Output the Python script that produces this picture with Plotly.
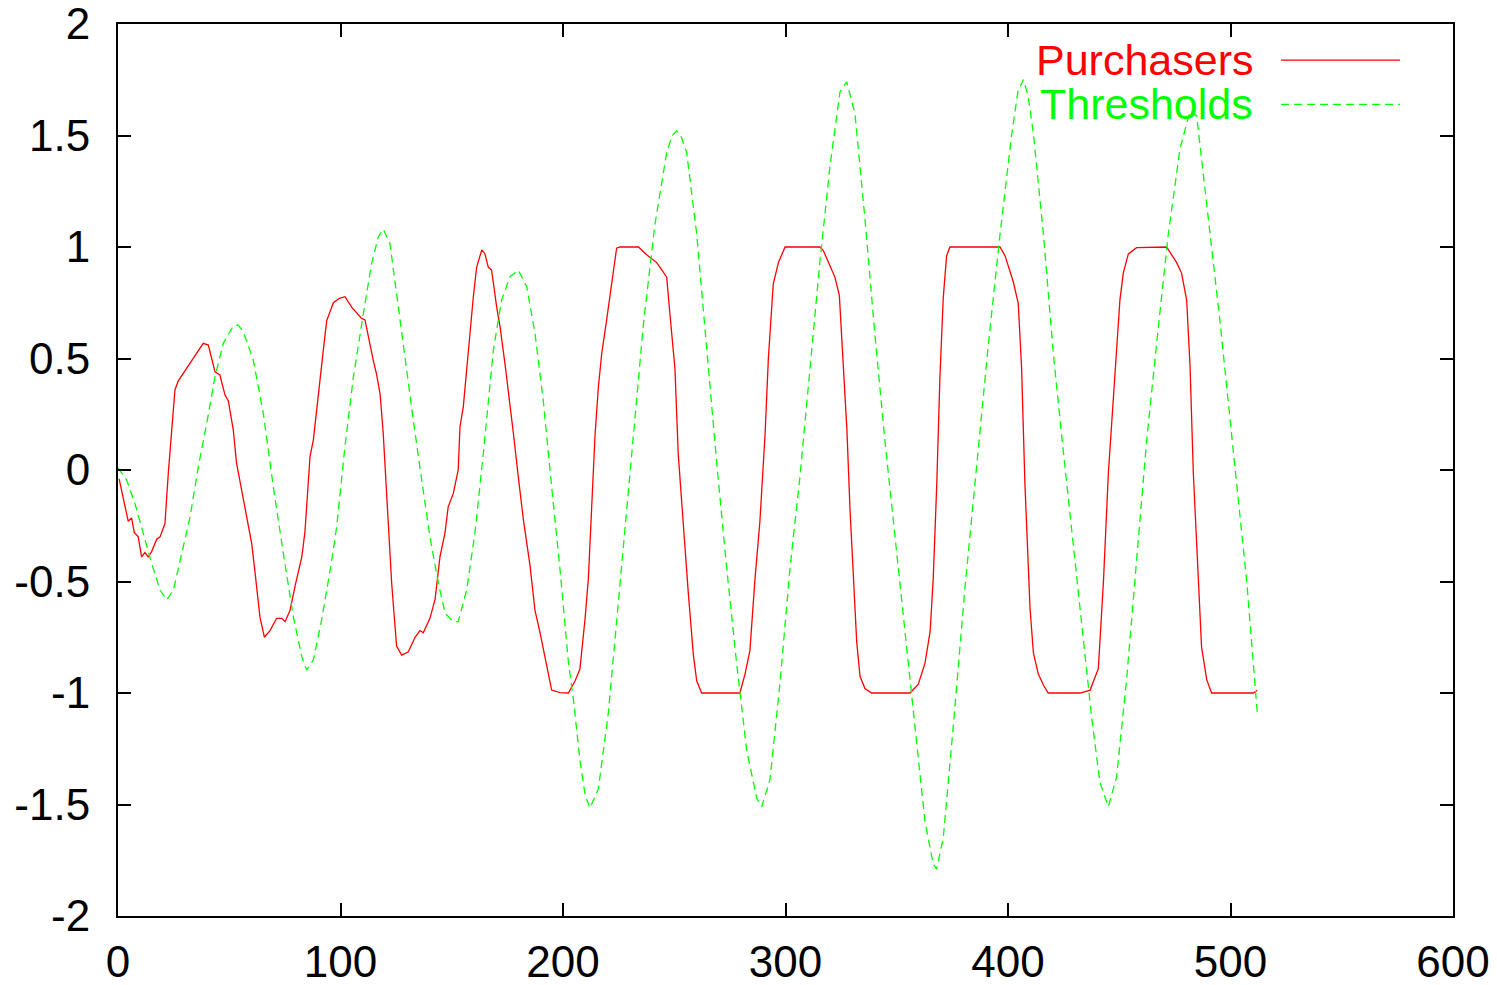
import plotly.graph_objects as go

# ---------------- data ----------------
series_names = ["Purchasers", "Thresholds"]
series_colors = ["#ff0000", "#00ff00"]

purch_x = [0.5, 3.1, 4.6, 6.1, 7.3, 9.1, 10.6, 12.1, 13.6, 15.1, 17.4, 18.9, 21.1, 22.6, 24.1,
           25.6, 27.1, 30.9, 34.6, 38.3, 40.6, 43.6, 45.8, 48.1, 49.6, 51.8, 53.3, 55.6, 57.8,
           60.1, 61.6, 63.8, 65.8, 68.3, 71.3, 73.6, 75.1, 77.3, 79.6, 82.6, 84.0, 86.3, 87.8,
           90.0, 92.3, 93.8, 96.8, 99.5, 102.0, 105.0, 109.5, 111.0, 113.3, 114.7, 116.2, 117.8,
           119.2, 120.8, 123.0, 125.2, 127.5, 130.5, 133.5, 135.7, 137.2, 140.2, 142.5, 144.7,
           147.0, 148.4, 150.7, 152.9, 153.7, 155.2, 156.7, 158.2, 159.7, 161.2, 163.5, 164.9,
           166.4, 167.9, 170.2, 171.7, 173.9, 175.4, 177.7, 179.9, 182.2, 185.2, 187.4, 189.7,
           192.6, 194.9, 198.7, 202.4, 205.4, 207.6, 209.9, 211.4, 212.9, 214.4, 215.9, 217.4,
           219.6, 221.1, 222.6, 224.1, 225.6, 233.9, 237.6, 242.1, 244.4, 246.6, 248.1, 250.3,
           251.8, 254.1, 256.3, 258.6, 260.1, 262.3, 279.5, 281.8, 284.0, 286.3, 288.5, 290.8,
           292.3, 294.5, 296.8, 299.8, 315.5, 317.0, 320.0, 322.2, 324.2, 326.0, 327.6, 329.0,
           330.5, 332.0, 333.5, 335.7, 338.7, 356.0, 359.7, 362.7, 365.0, 366.4, 368.0, 369.4,
           370.9, 372.4, 373.9, 396.4, 398.7, 402.4, 404.6, 406.1, 407.6, 408.4, 409.9, 411.4,
           413.6, 415.9, 418.1, 432.4, 436.9, 440.6, 442.9, 445.1, 448.1, 450.3, 451.8, 454.1,
           457.8, 471.3, 475.8, 478.0, 480.3, 481.8, 483.3, 485.5, 487.0, 489.3, 491.5, 510.2,
           512.0]
purch_y = [-0.04, -0.165, -0.23, -0.215, -0.28, -0.30, -0.39, -0.37, -0.39, -0.366, -0.31, -0.30,
           -0.24, -0.015, 0.165, 0.36, 0.40, 0.456, 0.51, 0.568, 0.56, 0.44, 0.426, 0.336, 0.31,
           0.18, 0.03, -0.09, -0.194, -0.33, -0.46, -0.66, -0.75, -0.72, -0.665, -0.665, -0.68,
           -0.63, -0.52, -0.39, -0.28, 0.06, 0.135, 0.344, 0.54, 0.67, 0.75, 0.77, 0.777, 0.73,
           0.68, 0.673, 0.553, 0.493, 0.43, 0.34, 0.165, -0.135, -0.508, -0.79, -0.83, -0.815,
           -0.75, -0.72, -0.73, -0.665, -0.58, -0.39, -0.28, -0.165, -0.105, 0.0, 0.194, 0.284,
           0.463, 0.613, 0.777, 0.91, 0.987, 0.97, 0.91, 0.897, 0.73, 0.643, 0.478, 0.36, 0.165,
           -0.03, -0.224, -0.43, -0.63, -0.73, -0.866, -0.987, -0.998, -1.0, -0.946, -0.894,
           -0.668, -0.487, -0.165, 0.157, 0.372, 0.522, 0.672, 0.78, 0.908, 0.995, 1.0, 1.0,
           0.965, 0.93, 0.897, 0.865, 0.694, 0.457, 0.07, -0.27, -0.55, -0.83, -0.946, -1.0, -1.0,
           -0.915, -0.81, -0.487, -0.23, 0.157, 0.5, 0.834, 0.93, 1.0, 1.0, 0.984, 0.915, 0.865,
           0.783, 0.486, 0.18, -0.178, -0.487, -0.771, -0.925, -0.98, -1.0, -1.0, -0.96, -0.866,
           -0.724, -0.487, -0.06, 0.415, 0.772, 0.96, 1.0, 1.0, 0.96, 0.843, 0.747, 0.46, -0.06,
           -0.26, -0.62, -0.819, -0.914, -0.964, -1.0, -1.0, -0.987, -0.891, -0.50, -0.016, 0.42,
           0.762, 0.883, 0.969, 0.997, 1.0, 0.93, 0.883, 0.762, 0.47, -0.016, -0.50, -0.794,
           -0.94, -1.0, -1.0, -0.988]

thresh_x = [0.0, 3.9, 7.6, 11.4, 15.1, 18.9, 21.9, 24.9, 28.6, 32.4, 36.1, 39.9, 43.6, 47.3,
            51.8, 54.0, 56.3, 60.8, 65.3, 69.8, 74.3, 78.8, 82.6, 84.8, 87.8, 91.5, 95.5, 98.3,
            102.0, 105.8, 110.3, 114.0, 117.0, 119.2, 122.2, 125.2, 128.9, 132.7, 136.5, 140.2,
            144.0, 147.0, 150.7, 152.9, 156.7, 160.4, 164.2, 168.7, 172.4, 176.2, 179.9, 183.7,
            187.4, 191.1, 194.9, 198.7, 202.4, 204.7, 207.6, 210.0, 212.1, 215.9, 220.4, 225.6,
            230.9, 236.1, 241.3, 246.6, 249.0, 251.1, 253.3, 255.6, 260.1, 264.6, 269.1, 273.6,
            278.1, 282.6, 287.1, 289.3, 293.0, 297.5, 302.0, 306.5, 311.0, 315.5, 320.0, 324.5,
            327.5, 331.2, 335.7, 340.2, 344.7, 349.2, 353.7, 358.2, 362.7, 366.4, 367.9, 370.9,
            375.4, 380.6, 385.9, 391.1, 396.4, 401.6, 404.5, 406.9, 409.0, 411.4, 415.9, 420.4,
            424.9, 429.4, 433.9, 437.6, 441.3, 445.1, 448.8, 453.3, 457.8, 462.3, 466.8, 472.0,
            477.3, 481.8, 484.8, 489.3, 495.3, 501.3, 507.3, 512.0]
thresh_y = [0.01, -0.045, -0.15, -0.284, -0.418, -0.538, -0.583, -0.538, -0.374, -0.21, 0.015,
            0.21, 0.418, 0.568, 0.646, 0.65, 0.62, 0.493, 0.254, -0.075, -0.374, -0.658, -0.837,
            -0.897, -0.852, -0.673, -0.44, -0.254, 0.105, 0.418, 0.703, 0.927, 1.046, 1.08, 1.017,
            0.793, 0.493, 0.224, -0.045, -0.3, -0.508, -0.643, -0.68, -0.68, -0.538, -0.284, 0.075,
            0.538, 0.762, 0.867, 0.896, 0.822, 0.613, 0.314, -0.075, -0.45, -0.86, -1.03, -1.302,
            -1.46, -1.516, -1.43, -1.087, -0.53, 0.072, 0.65, 1.10, 1.423, 1.50, 1.52, 1.49, 1.423,
            1.058, 0.543, 0.03, -0.443, -0.873, -1.26, -1.473, -1.51, -1.39, -0.958, -0.443, -0.03,
            0.46, 0.937, 1.364, 1.696, 1.74, 1.60, 1.127, 0.605, 0.13, -0.297, -0.724, -1.15,
            -1.578, -1.767, -1.79, -1.65, -1.15, -0.534, 0.035, 0.557, 1.055, 1.50, 1.70, 1.75,
            1.68, 1.51, 1.06, 0.518, 0.081, -0.332, -0.745, -1.11, -1.40, -1.51, -1.377, -0.94,
            -0.404, 0.13, 0.567, 1.054, 1.44, 1.61, 1.588, 1.20, 0.665, 0.081, -0.50, -1.085]

x_ticks = [0, 100, 200, 300, 400, 500, 600]
x_tick_text = ["0", "100", "200", "300", "400", "500", "600"]
y_ticks = [-2, -1.5, -1, -0.5, 0, 0.5, 1, 1.5, 2]
y_tick_text = ["-2", "-1.5", "-1", "-0.5", "0", "0.5", "1", "1.5", "2"]

# ---------------- figure ----------------
FONT = "Liberation Sans, Arial, Helvetica, sans-serif"

fig = go.Figure()
fig.add_trace(go.Scatter(x=purch_x, y=purch_y, mode="lines", name=series_names[0],
                         line=dict(color=series_colors[0], width=1.3), showlegend=False))
fig.add_trace(go.Scatter(x=thresh_x, y=thresh_y, mode="lines", name=series_names[1],
                         line=dict(color=series_colors[1], width=1.3, dash="8px,5px"),
                         showlegend=False))

axis_common = dict(showline=True, linecolor="black", linewidth=2, mirror="allticks",
                   ticks="inside", ticklen=13, tickwidth=2, tickcolor="black",
                   showgrid=False, zeroline=False, automargin=False,
                   ticklabeloverflow="allow",
                   tickfont=dict(family=FONT, size=44, color="black"))

fig.update_xaxes(range=[0, 600], tickvals=x_ticks, ticktext=x_tick_text,
                 ticklabelstandoff=6, **axis_common)
fig.update_yaxes(range=[-2, 2], tickvals=y_ticks, ticktext=y_tick_text,
                 ticklabelstandoff=17, **axis_common)

# gnuplot-style key: text on the left, line sample on the right
key_rows_y = [0.9596, 0.910]
key_dash = ["solid", "8px,5px"]
for i, name in enumerate(series_names):
    fig.add_annotation(x=0.8516, y=key_rows_y[i], xref="paper", yref="paper",
                       text=name, showarrow=False, xanchor="right", yanchor="middle",
                       font=dict(family=FONT, size=43, color=series_colors[i]))
    fig.add_shape(type="line", xref="paper", yref="paper",
                  x0=0.8712, x1=0.9603, y0=key_rows_y[i], y1=key_rows_y[i],
                  line=dict(color=series_colors[i], width=1.3, dash=key_dash[i]))

fig.update_layout(width=1497, height=985, plot_bgcolor="white", paper_bgcolor="white",
                  margin=dict(l=118, r=44, t=24, b=69), showlegend=False)

fig.write_html("out.html", config={"displayModeBar": False},
               post_script="document.body.style.margin='0';document.body.style.overflow='hidden';")
